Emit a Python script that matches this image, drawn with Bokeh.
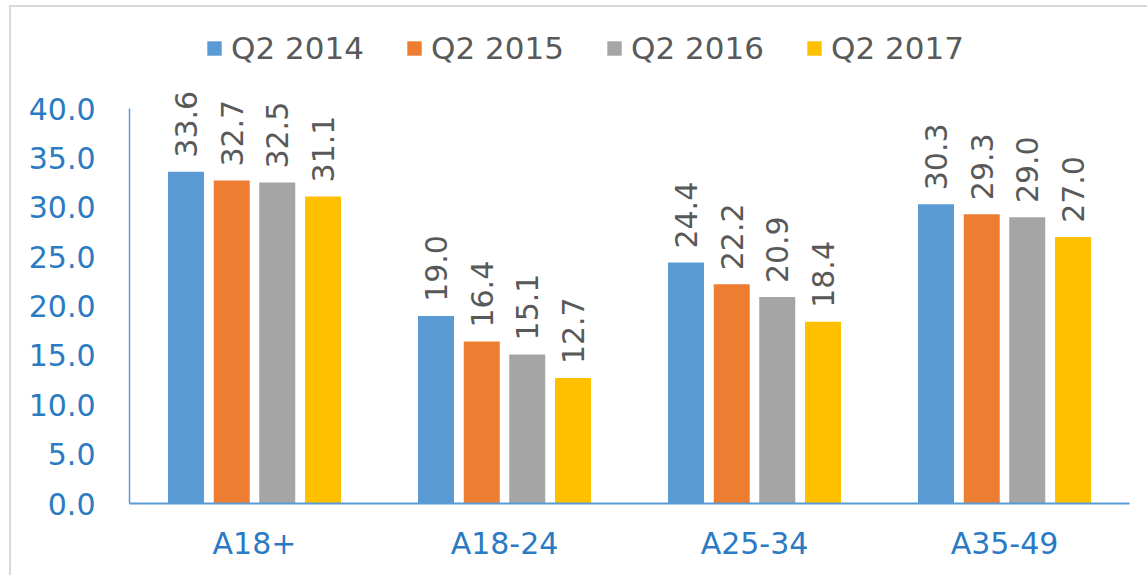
from bokeh.plotting import figure
from bokeh.models import (ColumnDataSource, FactorRange, FixedTicker, NumeralTickFormatter,
                          Legend, LegendItem, Range1d, InlineStyleSheet)
from bokeh.transform import dodge
from bokeh.core.properties import value
from bokeh.embed import file_html
from bokeh.resources import INLINE

categories = ["A18+", "A18-24", "A25-34", "A35-49"]
series_names = ["Q2 2014", "Q2 2015", "Q2 2016", "Q2 2017"]
q2_2014 = [33.6, 19.0, 24.4, 30.3]
q2_2015 = [32.7, 16.4, 22.2, 29.3]
q2_2016 = [32.5, 15.1, 20.9, 29.0]
q2_2017 = [31.1, 12.7, 18.4, 27.0]
y_ticks = [0, 5, 10, 15, 20, 25, 30, 35, 40]

colors = ["#5B9BD5", "#ED7D31", "#A5A5A5", "#FFC000"]
offsets = [-0.274, -0.091, 0.091, 0.274]
FONT = "DejaVu Sans"
AXIS_BLUE = "#2B7BC4"

src = ColumnDataSource(dict(
    cat=categories,
    s0=q2_2014, s1=q2_2015, s2=q2_2016, s3=q2_2017,
    l0=[f"{v:.1f}" for v in q2_2014],
    l1=[f"{v:.1f}" for v in q2_2015],
    l2=[f"{v:.1f}" for v in q2_2016],
    l3=[f"{v:.1f}" for v in q2_2017],
))

# frame spans from canvas top (y=0) to baseline at y=503; 40 units -> 395 px
y_top = 40 * 503 / 395

p = figure(width=1147, height=575, x_range=FactorRange(*categories, range_padding=0),
           y_range=Range1d(0, y_top), output_backend="svg", toolbar_location=None,
           min_border_left=129, min_border_right=18, min_border_top=0, min_border_bottom=72)
p.outline_line_color = None
p.grid.visible = False
p.background_fill_color = "white"
p.border_fill_color = "white"
p.stylesheets = [InlineStyleSheet(css=(
    ":host::after {content: ''; position: absolute; left: 9px; top: 5px; right: 0; bottom: 0;"
    " border-left: 2px solid #d9d9d9; border-top: 2px solid #d9d9d9; pointer-events: none;}"))]

items = []
for i in range(4):
    r = p.vbar(x=dodge("cat", offsets[i], range=p.x_range), top=f"s{i}", width=0.144,
               source=src, fill_color=colors[i], line_color=None)
    items.append(LegendItem(label=series_names[i], renderers=[r]))
    p.text(x=dodge("cat", offsets[i], range=p.x_range), y=f"s{i}", text=f"l{i}", source=src,
           angle=1.5708, text_align="left", text_baseline="middle", y_offset=-14,
           text_font=value(FONT), text_font_size="30px", text_color="#595959")

p.yaxis.ticker = FixedTicker(ticks=y_ticks)
p.yaxis.bounds = (y_ticks[0], y_ticks[-1])
p.yaxis.formatter = NumeralTickFormatter(format="0.0")
for ax in (p.xaxis[0], p.yaxis[0]):
    ax.axis_line_color = "#5B9BD5"
    ax.axis_line_width = 2
    ax.major_tick_line_color = None
    ax.minor_tick_line_color = None
    ax.major_label_text_font = FONT
    ax.major_label_text_font_size = "30px"
    ax.major_label_text_color = AXIS_BLUE
p.yaxis.major_label_standoff = 28
p.xaxis.major_label_standoff = 16
p.yaxis.axis_line_width = 1.5

legend = Legend(items=items, orientation="horizontal", location=(76, 437),
                glyph_width=18, glyph_height=18, label_standoff=8, spacing=10, label_width=164,
                padding=0, margin=0, border_line_color=None, background_fill_alpha=0,
                label_text_font=FONT, label_text_font_size="31px", label_text_color="#595959")
p.add_layout(legend, "center")

open("out.html", "w").write(file_html(p, INLINE))
